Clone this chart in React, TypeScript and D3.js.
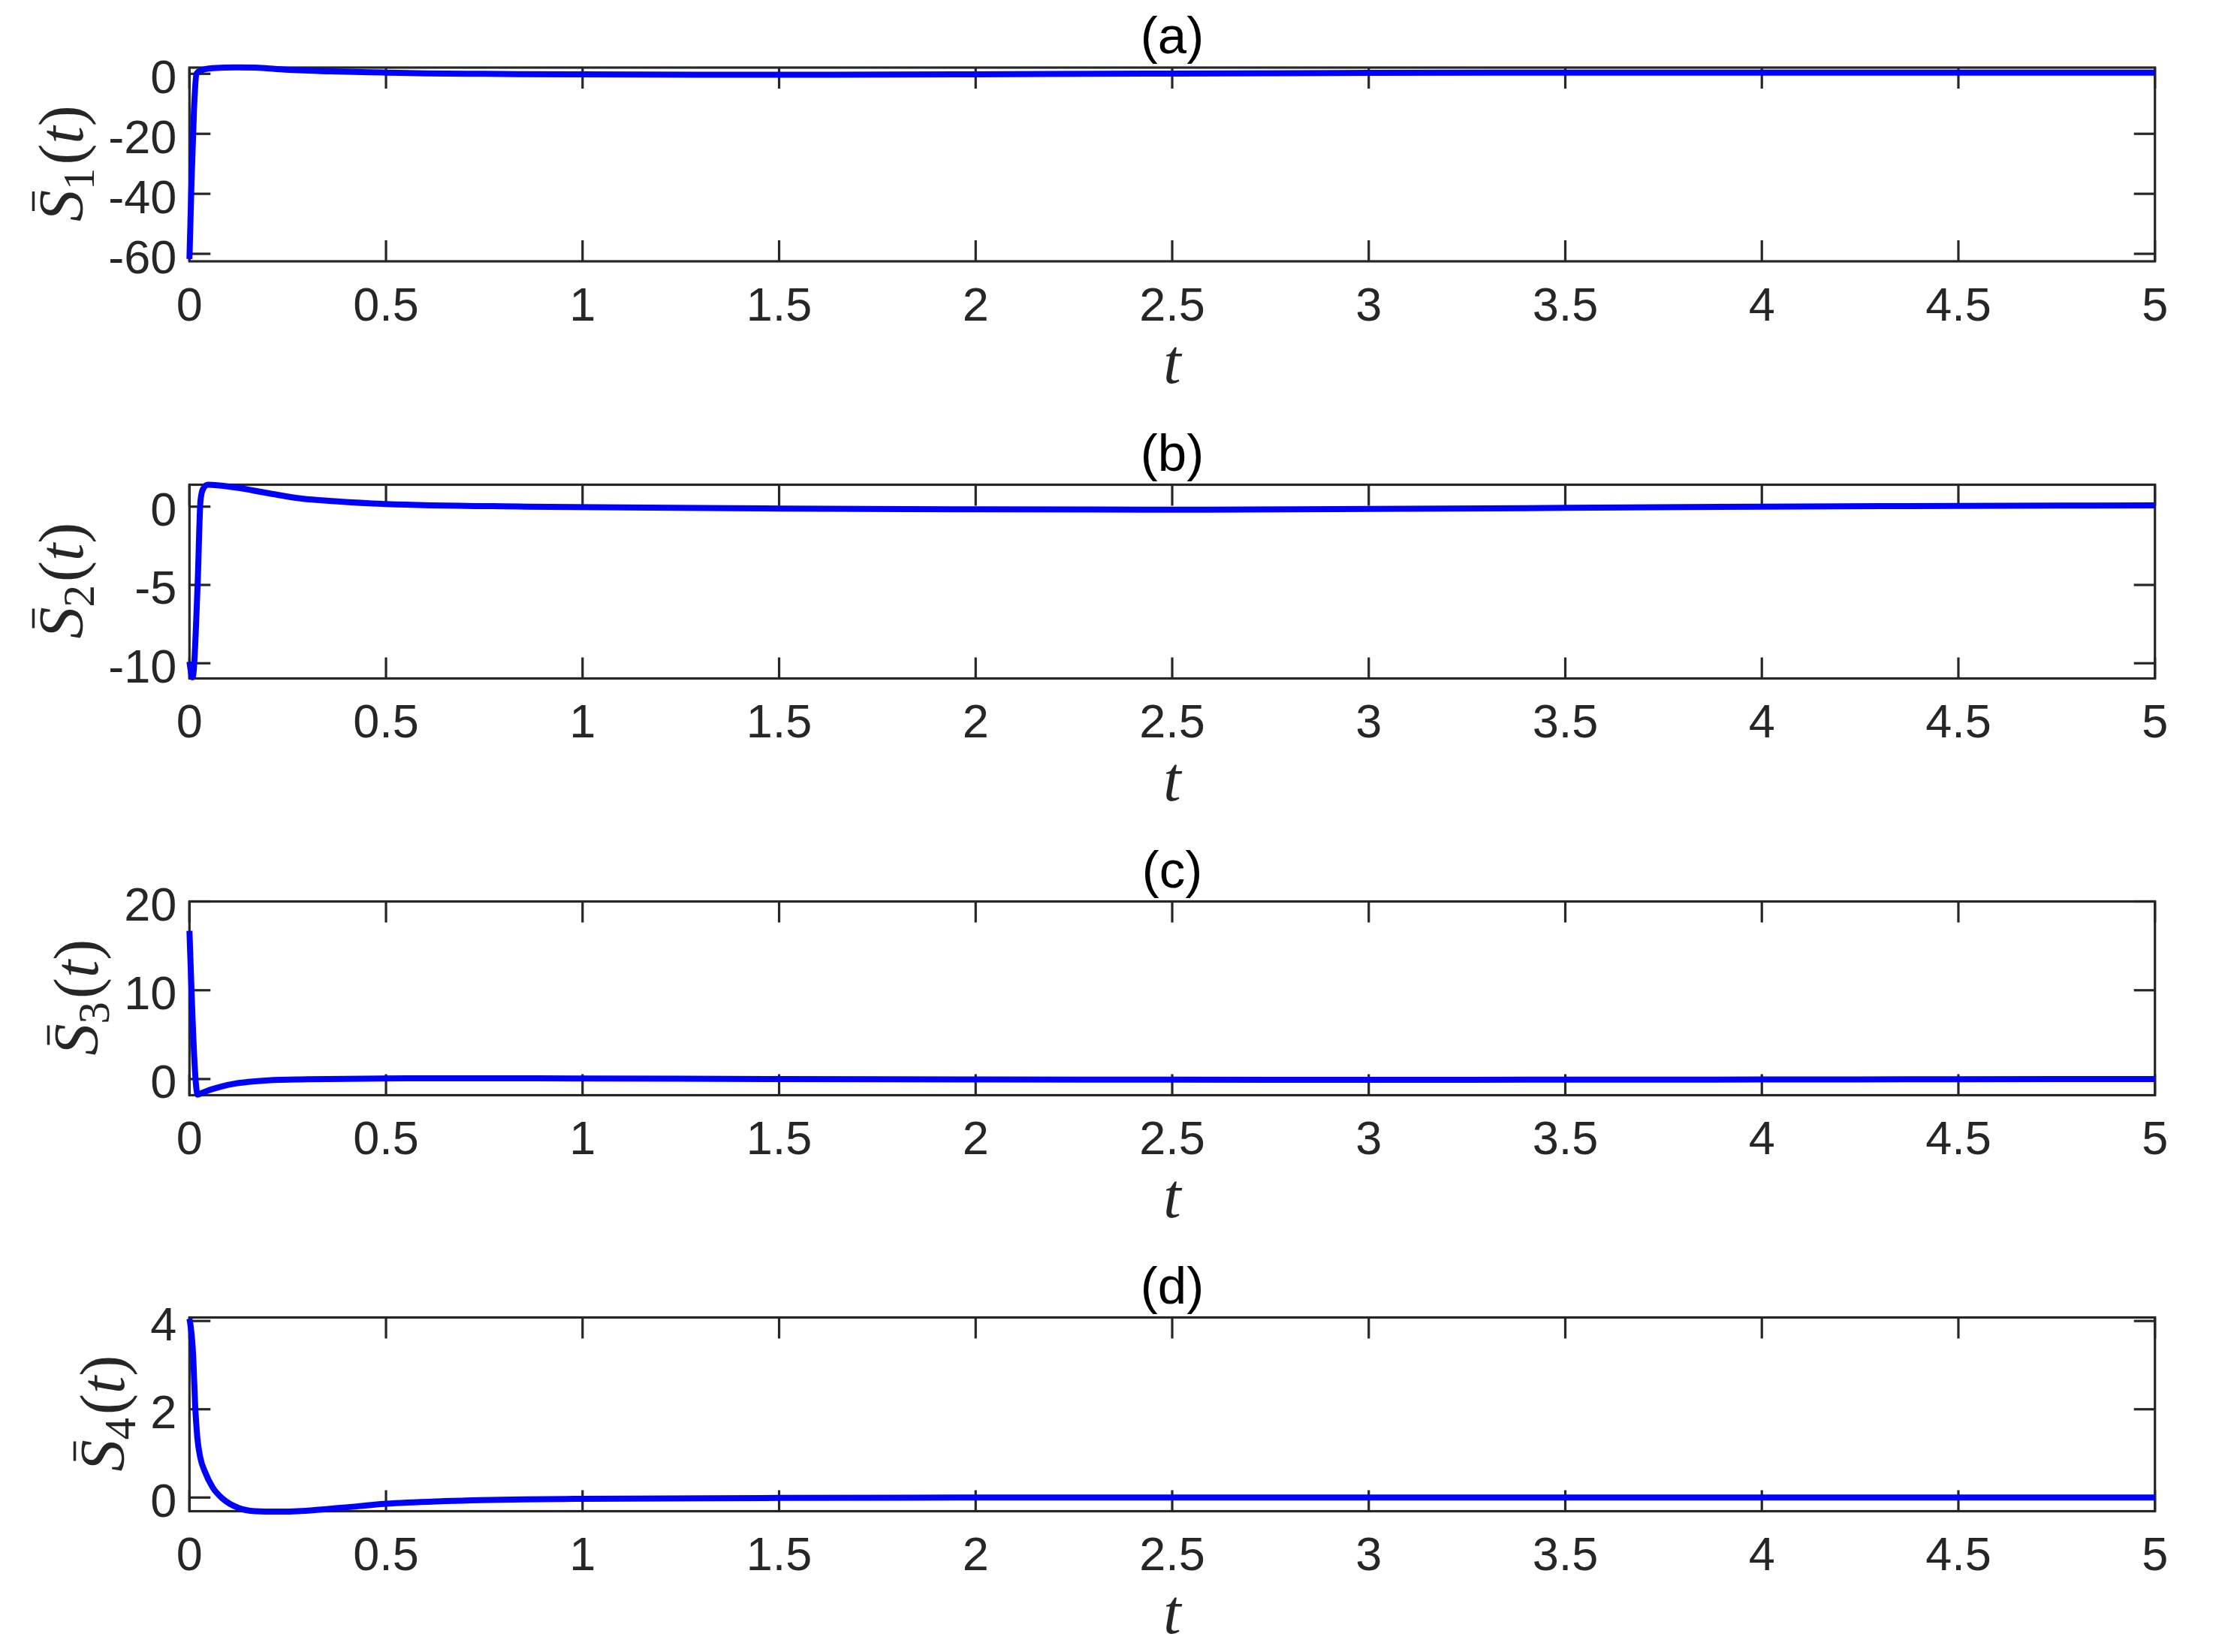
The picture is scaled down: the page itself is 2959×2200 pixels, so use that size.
import React from "react";
import * as d3 from "d3";

// ---- data ----
const X_TICKS = [0, 0.5, 1, 1.5, 2, 2.5, 3, 3.5, 4, 4.5, 5];
const X_DOMAIN = [0, 5];

const TITLES = ["(a)", "(b)", "(c)", "(d)"];
const SUBSCRIPTS = ["1", "2", "3", "4"];

const T1 = [0, 0.005, 0.0115, 0.018, 0.0275, 0.059, 0.117, 0.167, 0.244, 0.358, 0.5, 0.6, 0.75, 1, 1.5, 2, 2.5, 3, 3.5, 4, 4.5, 5];
const S1 = [-61.7, -37, -12, 0, 1.1, 1.9, 2.15, 2.05, 1.4, 0.83, 0.42, 0.15, 0.0, -0.2, -0.3, -0.15, 0.1, 0.3, 0.4, 0.4, 0.4, 0.4];

const T2 = [0, 0.008, 0.021, 0.028, 0.034, 0.047, 0.115, 0.2, 0.286, 0.37, 0.5, 0.855, 1.5, 2, 2.5, 3, 3.5, 4, 4.5, 5];
const S2 = [-9.9, -10.9, -4.8, 0.35, 1.1, 1.4, 1.23, 0.86, 0.51, 0.35, 0.17, 0.0, -0.12, -0.17, -0.19, -0.15, -0.08, 0.0, 0.05, 0.08];

const T3 = [0, 0.021, 0.03, 0.05, 0.08, 0.115, 0.15, 0.2, 0.3, 0.4, 0.6, 0.8, 1, 1.5, 2, 2.5, 3, 3.5, 4, 4.5, 5];
const S3 = [16.7, -1.75, -1.6, -1.25, -0.85, -0.52, -0.32, -0.15, -0.03, 0.03, 0.08, 0.08, 0.06, 0.0, -0.04, -0.07, -0.08, -0.07, -0.05, -0.02, 0.0];

const T4 = [0, 0.0096, 0.0147, 0.02, 0.0275, 0.04, 0.059, 0.085, 0.123, 0.167, 0.218, 0.295, 0.39, 0.5, 0.65, 0.85, 1, 1.5, 2, 3, 4, 5];
const S4 = [4.05, 3.18, 2.05, 1.36, 0.91, 0.57, 0.23, -0.03, -0.23, -0.31, -0.32, -0.3, -0.23, -0.14, -0.08, -0.04, -0.03, -0.01, 0.0, 0.0, 0.0, 0.0];

const Y_DOMAINS = [[-62.5, 2.08], [-10.97, 1.4], [-1.82, 20], [-0.31, 4.08]];
const Y_TICKS = [[-60, -40, -20, 0], [-10, -5, 0], [0, 10, 20], [0, 2, 4]];

const SERIES_T = [T1, T2, T3, T4];
const SERIES_S = [S1, S2, S3, S4];

// ---- layout ----
const W = 2959;
const H = 2200;
const PLOT_LEFT = 252.3;
const PLOT_RIGHT = 2869.7;
const PANEL_TOPS = [90, 645.5, 1200.5, 1754.5];
const PANEL_H = 258;
const YLABEL_BASE_X = [110, 110, 130, 165];
const AXIS_COLOR = "#262626";
const TICK_LEN = 28;
const SANS = "'Liberation Sans', Arial, Helvetica, sans-serif";
const SERIF = "'Liberation Serif', 'Times New Roman', serif";

function Panel({ idx }: { idx: number }) {
  const top = PANEL_TOPS[idx];
  const bottom = top + PANEL_H;
  const x = d3.scaleLinear().domain(X_DOMAIN).range([PLOT_LEFT, PLOT_RIGHT]);
  const y = d3.scaleLinear().domain(Y_DOMAINS[idx]).range([bottom, top]);
  const pts: [number, number][] = SERIES_T[idx].map((t, i) => [t, SERIES_S[idx][i]]);
  const line = d3
    .line<[number, number]>()
    .x((d) => x(d[0]))
    .y((d) => y(d[1]))
    .curve(d3.curveMonotoneX);

  const cy = (top + bottom) / 2;
  const fs = 84;
  const labelStart = -76;

  return (
    <g>
      {/* box */}
      <rect
        x={PLOT_LEFT}
        y={top}
        width={PLOT_RIGHT - PLOT_LEFT}
        height={PANEL_H}
        fill="none"
        stroke={AXIS_COLOR}
        strokeWidth={3.2}
      />
      {/* x ticks */}
      {X_TICKS.map((v) => (
        <g key={"x" + v}>
          <line x1={x(v)} x2={x(v)} y1={bottom} y2={bottom - TICK_LEN} stroke={AXIS_COLOR} strokeWidth={3.2} />
          <line x1={x(v)} x2={x(v)} y1={top} y2={top + TICK_LEN} stroke={AXIS_COLOR} strokeWidth={3.2} />
          <text
            x={x(v)}
            y={bottom + 78.5}
            textAnchor="middle"
            fontFamily={SANS}
            fontSize={63}
            fill={AXIS_COLOR}
          >
            {String(v)}
          </text>
        </g>
      ))}
      {/* y ticks */}
      {Y_TICKS[idx].map((v) => (
        <g key={"y" + v}>
          <line x1={PLOT_LEFT} x2={PLOT_LEFT + TICK_LEN} y1={y(v)} y2={y(v)} stroke={AXIS_COLOR} strokeWidth={3.2} />
          <line x1={PLOT_RIGHT} x2={PLOT_RIGHT - TICK_LEN} y1={y(v)} y2={y(v)} stroke={AXIS_COLOR} strokeWidth={3.2} />
          <text
            x={PLOT_LEFT - 17}
            y={y(v) + 25.5}
            textAnchor="end"
            fontFamily={SANS}
            fontSize={63}
            fill={AXIS_COLOR}
          >
            {String(v)}
          </text>
        </g>
      ))}
      {/* data line */}
      <path d={line(pts) || ""} fill="none" stroke="#0000ff" strokeWidth={8} strokeLinejoin="round" strokeLinecap="butt" />
      {/* title */}
      <text x={(PLOT_LEFT + PLOT_RIGHT) / 2} y={top - 19} textAnchor="middle" fontFamily={SANS} fontSize={69} fill="#000">
        {TITLES[idx]}
      </text>
      {/* x label */}
      <text
        x={(PLOT_LEFT + PLOT_RIGHT) / 2}
        y={bottom + 162}
        textAnchor="middle"
        fontFamily={SERIF}
        fontStyle="italic"
        fontSize={fs}
        fill={AXIS_COLOR}
      >
        t
      </text>
      {/* y label */}
      <g transform={`translate(${YLABEL_BASE_X[idx]},${cy}) rotate(-90)`}>
        <text x={labelStart} y={0} fontFamily={SERIF} fontSize={fs} fill={AXIS_COLOR}>
          <tspan fontStyle="italic">S</tspan>
          <tspan fontSize={fs * 0.7} dy={fs * 0.18}>
            {SUBSCRIPTS[idx]}
          </tspan>
          <tspan dy={-fs * 0.18} dx={4}>(</tspan>
          <tspan fontStyle="italic">t</tspan>
          <tspan>)</tspan>
        </text>
        <line
          x1={labelStart + 14}
          x2={labelStart + 40}
          y1={-fs * 0.78}
          y2={-fs * 0.78}
          stroke={AXIS_COLOR}
          strokeWidth={3.5}
        />
      </g>
    </g>
  );
}

export default function App() {
  return (
    <svg
      width={W}
      height={H}
      viewBox={`0 0 ${W} ${H}`}
      style={{ position: "absolute", left: 0, top: 0, display: "block", background: "#fff" }}
    >
      <rect x={0} y={0} width={W} height={H} fill="#fff" />
      {[0, 1, 2, 3].map((i) => (
        <Panel key={i} idx={i} />
      ))}
    </svg>
  );
}
